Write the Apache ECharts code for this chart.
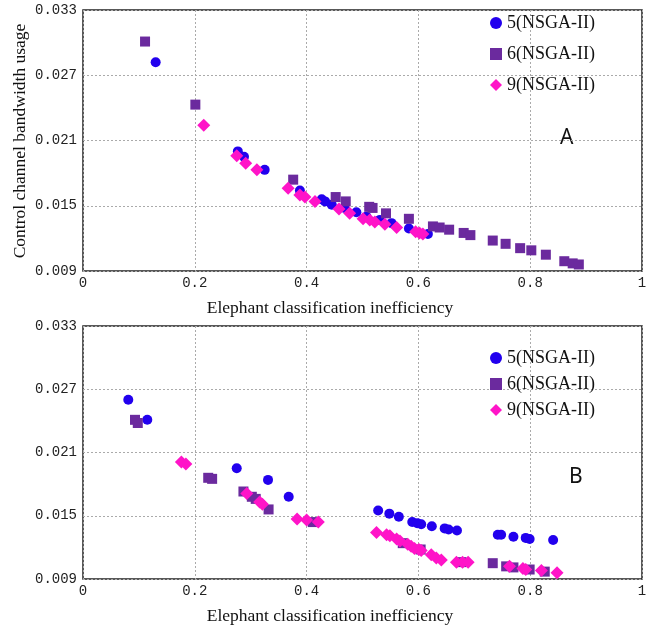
<!DOCTYPE html>
<html>
<head>
<meta charset="utf-8">
<script src="https://cdn.jsdelivr.net/npm/echarts@6/dist/echarts.min.js"></script>
<style>html,body{margin:0;padding:0;background:#fff}#c{width:656px;height:626px}</style>
</head>
<body>
<div id="c"></div>
<script>
// ---- data ----
const seriesNames = ['5(NSGA-II)', '6(NSGA-II)', '9(NSGA-II)'];
const xTickLabels = ['0', '0.2', '0.4', '0.6', '0.8', '1'];
const yTickLabels = ['0.009', '0.015', '0.021', '0.027', '0.033'];

// Panel A
const a5 = [[0.130,0.0282],[0.277,0.0200],[0.288,0.0195],[0.325,0.0183],[0.388,0.0164],[0.427,0.0156],[0.433,0.0154],[0.445,0.0151],[0.468,0.0148],[0.489,0.0144],[0.507,0.0140],[0.531,0.0137],[0.552,0.0134],[0.583,0.0129],[0.617,0.0124]];
const a6 = [[0.111,0.0301],[0.201,0.0243],[0.376,0.0174],[0.452,0.0158],[0.470,0.0154],[0.512,0.0149],[0.518,0.0148],[0.542,0.0143],[0.583,0.0138],[0.626,0.0131],[0.638,0.0130],[0.655,0.0128],[0.681,0.0125],[0.693,0.0123],[0.733,0.0118],[0.756,0.0115],[0.782,0.0111],[0.802,0.0109],[0.828,0.0105],[0.861,0.0099],[0.876,0.0097],[0.887,0.0096]];
const a9 = [[0.216,0.0224],[0.275,0.0196],[0.291,0.0189],[0.311,0.0183],[0.367,0.0166],[0.388,0.0160],[0.397,0.0158],[0.415,0.0154],[0.458,0.0147],[0.477,0.0143],[0.501,0.0138],[0.513,0.0137],[0.522,0.0135],[0.540,0.0133],[0.561,0.0130],[0.595,0.0126],[0.602,0.0125],[0.608,0.0124]];

// Panel B
const b5 = [[0.081,0.0260],[0.115,0.0241],[0.275,0.0195],[0.331,0.0184],[0.368,0.0168],[0.528,0.0155],[0.548,0.0152],[0.565,0.0149],[0.589,0.0144],[0.598,0.0143],[0.605,0.0142],[0.624,0.0140],[0.647,0.0138],[0.654,0.0137],[0.669,0.0136],[0.742,0.0132],[0.748,0.0132],[0.770,0.0130],[0.792,0.0129],[0.799,0.0128],[0.841,0.0127]];
const b6 = [[0.093,0.0241],[0.098,0.0238],[0.224,0.0186],[0.231,0.0185],[0.287,0.0173],[0.302,0.0168],[0.309,0.0166],[0.332,0.0156],[0.411,0.0144],[0.572,0.0124],[0.604,0.0118],[0.677,0.0106],[0.733,0.0105],[0.757,0.0102],[0.770,0.0101],[0.799,0.0099],[0.826,0.0097]];
const b9 = [[0.176,0.0201],[0.184,0.0199],[0.293,0.0171],[0.316,0.0163],[0.321,0.0161],[0.383,0.0147],[0.400,0.0146],[0.421,0.0144],[0.525,0.0134],[0.543,0.0132],[0.549,0.0131],[0.561,0.0128],[0.567,0.0126],[0.581,0.0123],[0.587,0.0121],[0.593,0.0119],[0.601,0.0118],[0.605,0.0117],[0.623,0.0113],[0.632,0.0110],[0.641,0.0108],[0.668,0.0106],[0.679,0.0106],[0.689,0.0106],[0.763,0.0102],[0.787,0.0100],[0.792,0.0099],[0.820,0.0098],[0.848,0.0096]];

// ---- chart ----
const colors = ['#2200ee', '#6b2a9e', '#ff14c8'];
const symbols = ['circle', 'rect', 'diamond'];
const sizes = [10, 10, 13];
const serif = 'Liberation Serif';
const mono = 'Liberation Mono';

function xAxisOpt(gi) {
  return {
    gridIndex: gi, type: 'value', min: 0, max: 1, interval: 0.2,
    axisLine: { show: false }, axisTick: { show: false },
    axisLabel: { margin: 5, fontFamily: mono, fontSize: 14, color: '#222',
      formatter: (v) => xTickLabels[Math.round(v / 0.2)] },
    splitLine: { show: true, lineStyle: { type: [2, 2], color: '#aaa', width: 1 } }
  };
}
function yAxisOpt(gi) {
  return {
    gridIndex: gi, type: 'value', min: 0.009, max: 0.033, interval: 0.006,
    axisLine: { show: false }, axisTick: { show: false },
    axisLabel: { margin: 6, fontFamily: mono, fontSize: 14, color: '#222',
      formatter: (v) => yTickLabels[Math.round((v - 0.009) / 0.006)] },
    splitLine: { show: true, lineStyle: { type: [2, 2], color: '#aaa', width: 1 } }
  };
}
function mk(name, idx, gi, data) {
  return {
    name: name, type: 'scatter', xAxisIndex: gi, yAxisIndex: gi,
    symbol: symbols[idx], symbolSize: sizes[idx],
    itemStyle: { color: colors[idx], opacity: 1 },
    data: data, z: 2 + idx
  };
}
function legendOpt(top, gap) {
  return {
    orient: 'vertical', left: 485, top: top, itemGap: gap,
    itemWidth: 12, itemHeight: 12,
    textStyle: { fontFamily: serif, fontSize: 18, color: '#111' },
    data: seriesNames.map((n, i) => ({ name: n, icon: symbols[i] }))
  };
}

const chart = echarts.init(document.getElementById('c'), null, { renderer: 'canvas' });
chart.setOption({
  animation: false,
  backgroundColor: '#fff',
  grid: [
    { left: 83, right: 14, top: 10, height: 261, show: true, borderColor: '#222', borderWidth: 1.5, backgroundColor: '#fff' },
    { left: 83, right: 14, top: 326, height: 253, show: true, borderColor: '#222', borderWidth: 1.5, backgroundColor: '#fff' }
  ],
  xAxis: [xAxisOpt(0), xAxisOpt(1)],
  yAxis: [yAxisOpt(0), yAxisOpt(1)],
  legend: [legendOpt(9, 13), legendOpt(344, 8)],
  series: [
    mk(seriesNames[0], 0, 0, a5), mk(seriesNames[1], 1, 0, a6), mk(seriesNames[2], 2, 0, a9),
    mk(seriesNames[0], 0, 1, b5), mk(seriesNames[1], 1, 1, b6), mk(seriesNames[2], 2, 1, b9)
  ],
  graphic: [
    { type: 'text', left: 560, top: 128, style: { text: 'A', font: '21px "Noto Sans"', fill: '#111' } },
    { type: 'text', left: 569, top: 467, style: { text: 'B', font: '21px "Noto Sans"', fill: '#111' } },
    { type: 'text', x: 330, y: 308, style: { text: 'Elephant classification inefficiency', font: '17.5px "Liberation Serif"', fill: '#111', align: 'center', verticalAlign: 'middle' } },
    { type: 'text', x: 330, y: 616, style: { text: 'Elephant classification inefficiency', font: '17.5px "Liberation Serif"', fill: '#111', align: 'center', verticalAlign: 'middle' } },
    { type: 'text', x: 20, y: 141, rotation: Math.PI / 2, style: { text: 'Control channel bandwidth usage', font: '17.5px "Liberation Serif"', fill: '#111', align: 'center', verticalAlign: 'middle' } }
  ]
});
</script>
</body>
</html>
